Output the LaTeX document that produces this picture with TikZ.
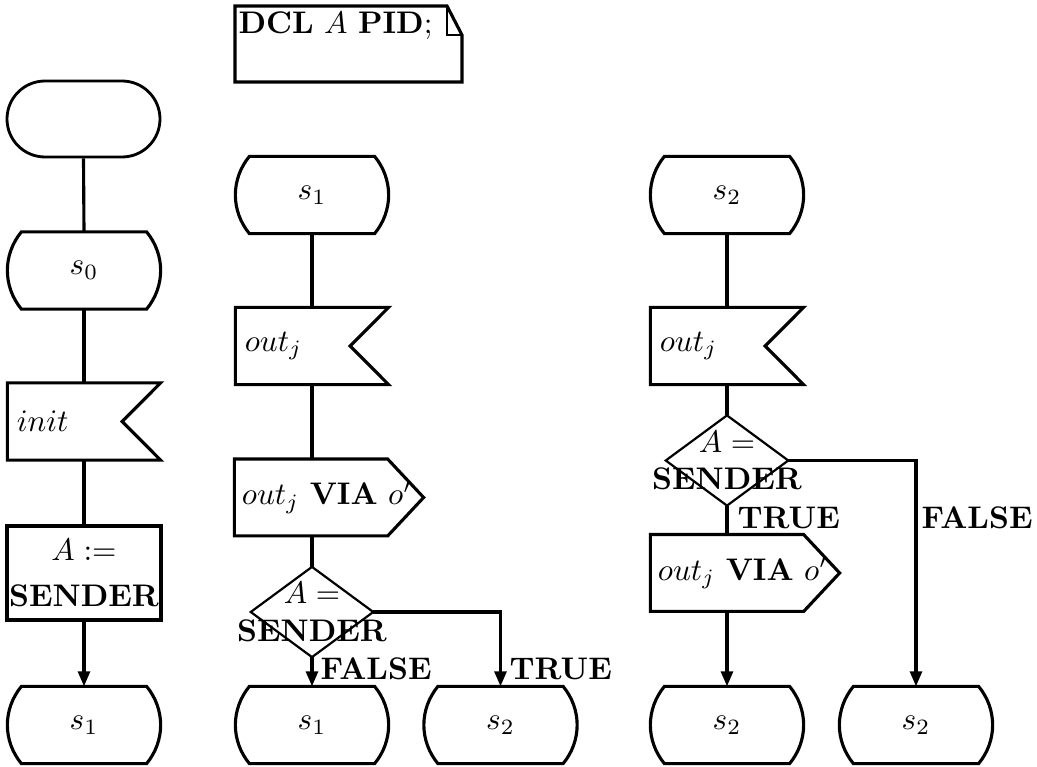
\documentclass[tikz,border=0pt]{standalone}
\usetikzlibrary{shapes.misc,arrows.meta}
\begin{document}
\begin{tikzpicture}[x=0.32pt,y=0.32pt,
  flow/.style={line width=1pt},
  fine/.style={line width=0.7pt},
  arr/.style={flow,-{Triangle[length=4.8pt,width=3.8pt]}},
  startbox/.style={rounded rectangle,draw,line width=0.9pt,inner sep=0pt,minimum width=48.96pt,minimum height=24.32pt},
  statebox/.style={rectangle,inner sep=0pt,minimum width=48.64pt,minimum height=24.32pt},
  inbox/.style={rectangle,inner xsep=2.8pt,inner ysep=0pt,minimum height=24.32pt},
  outbox/.style={rectangle,inner xsep=2.2pt,inner ysep=0pt,minimum height=24.2pt},
  taskbox/.style={rectangle,draw,flow,inner sep=0pt,minimum width=49.28pt,minimum height=30.08pt,align=center},
  decbox/.style={rectangle,inner sep=0pt,minimum width=38.8pt,minimum height=28.48pt,align=center},
  lbl/.style={inner sep=0pt,anchor=west,font=\bfseries}
]
\useasboundingbox (0,0) rectangle (1037,767);

% declaration (text symbol)
\node[anchor=base west,inner sep=0pt] (dcl) at (238,733) {\textbf{DCL} $A$ \textbf{PID};};
\draw[flow] (235,761) -- (447,761) -- (462,732) -- (462,685) -- (235,685) -- cycle;
\draw[fine] (447,761) -- (447,732) -- (462,732);

% column 1: start transition
\node[startbox] (start) at (83.5,648) {};
\node[statebox] (c1s0) at (84,496.5) {$s_0$};
\node[inbox] (c1in) at (84,345.5) {\makebox[43.04pt][l]{$init$}};
\node[taskbox] (c1task) at (84,194) {$A :=$\\[2.5pt]\textbf{SENDER}};
\node[statebox] (c1s1) at (84,42) {$s_1$};

% column 2: state s1
\node[statebox] (c2s1) at (312,572) {$s_1$};
\node[inbox] (c2in) at (312,421) {\makebox[43.04pt][l]{$out_j$}};
\node[outbox] (c2out) at (329,269.5) {\makebox[55.76pt][l]{$out_j$ \textbf{VIA} $o'$}};
\node[decbox] (c2dec) at (312,155) {\makebox[0pt]{$A =$}\\\makebox[0pt]{\textbf{SENDER}}};
\node[statebox] (c2s1b) at (312,42) {$s_1$};
\node[statebox] (c2s2) at (500.5,42) {$s_2$};

% column 3: state s2
\node[statebox] (c3s2) at (727,572) {$s_2$};
\node[inbox] (c3in) at (727,421) {\makebox[43.04pt][l]{$out_j$}};
\node[decbox] (c3dec) at (727,306.5) {\makebox[0pt]{$A =$}\\\makebox[0pt]{\textbf{SENDER}}};
\node[outbox] (c3out) at (745,194) {\makebox[55.76pt][l]{$out_j$ \textbf{VIA} $o'$}};
\node[statebox] (c3s2a) at (727,42) {$s_2$};
\node[statebox] (c3s2b) at (916,42) {$s_2$};

% state outlines
\foreach \n in {c1s0,c1s1,c2s1,c2s1b,c2s2,c3s2,c3s2a,c3s2b}
  \draw[flow] ([xshift=4.48pt]\n.north west) -- ([xshift=-4.48pt]\n.north east)
    .. controls ([xshift=1.5pt,yshift=-7.3pt]\n.north east) and ([xshift=1.5pt,yshift=7.3pt]\n.south east) .. ([xshift=-4.48pt]\n.south east)
    -- ([xshift=4.48pt]\n.south west)
    .. controls ([xshift=-1.5pt,yshift=7.3pt]\n.south west) and ([xshift=-1.5pt,yshift=-7.3pt]\n.north west) .. ([xshift=4.48pt]\n.north west)
    -- cycle;

% input outlines
\foreach \n in {c1in,c2in,c3in}
  \draw[flow] (\n.north west) -- (\n.north east) -- ([xshift=-12.3pt]\n.east)
    -- (\n.south east) -- (\n.south west) -- cycle;

% output outlines
\foreach \n in {c2out,c3out}
  \draw[flow] (\n.north west) -- ([xshift=-11.5pt]\n.north east) -- (\n.east)
    -- ([xshift=-11.5pt]\n.south east) -- (\n.south west) -- cycle;

% decision outlines
\foreach \n in {c2dec,c3dec}
  \draw[fine] (\n.north) -- (\n.east) -- (\n.south) -- (\n.west) -- cycle;

% connectors, column 1
\draw[flow] (start.south) -- (c1s0.north);
\draw[flow] (c1s0.south) -- (c1in.north);
\draw[flow] (c1in.south) -- (c1task.north);
\draw[arr] (c1task.south) -- (c1s1.north);

% connectors, column 2
\draw[flow] (c2s1.south) -- (c2in.north);
\draw[flow] (c2in.south) -- (c2in.south |- c2out.north);
\draw[flow] (c2dec.north |- c2out.south) -- (c2dec.north);
\draw[arr] (c2dec.south) -- (c2s1b.north);
\draw[arr] (c2dec.east) -| (c2s2.north);
\node[lbl] (c2f) at (320,98.5) {FALSE};
\node[lbl] (c2t) at (509,98.5) {TRUE};

% connectors, column 3
\draw[flow] (c3s2.south) -- (c3in.north);
\draw[flow] (c3in.south) -- (c3dec.north);
\draw[flow] (c3dec.south) -- (c3dec.south |- c3out.north);
\draw[arr] (c3s2a.north |- c3out.south) -- (c3s2a.north);
\draw[arr] (c3dec.east) -| (c3s2b.north);
\node[lbl] (c3t) at (737,249) {TRUE};
\node[lbl] (c3f) at (921,249) {FALSE};
\end{tikzpicture}
\end{document}
